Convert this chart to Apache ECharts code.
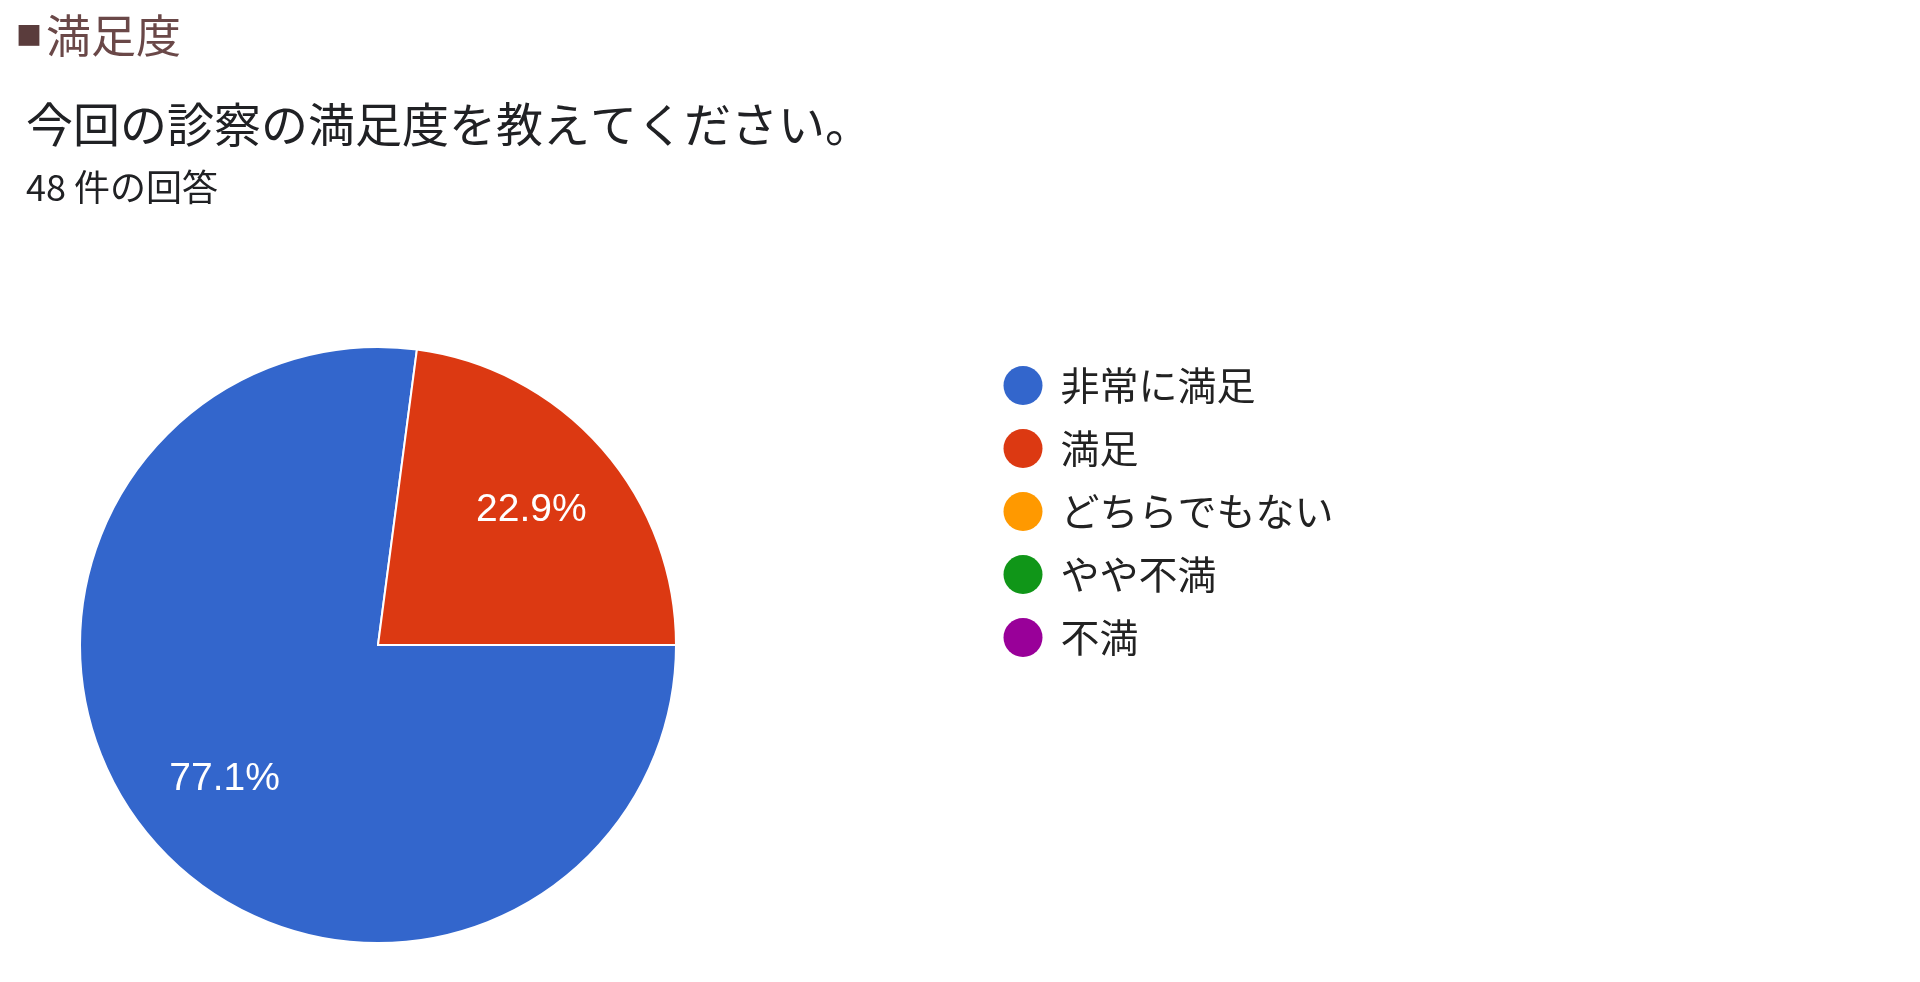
<!DOCTYPE html>
<html>
<head>
<meta charset="utf-8">
<script src="https://cdn.jsdelivr.net/npm/echarts@6/dist/echarts.min.js"></script>
<style>
html,body{margin:0;padding:0;background:#fff;}
#chart{width:1920px;height:982px;}
</style>
</head>
<body>
<div id="chart"></div>
<script>
const sectionTitle = '満足度';
const questionTitle = '今回の診察の満足度を教えてください。';
const responseCountText = '48 件の回答';
const categories = ['非常に満足', '満足', 'どちらでもない', 'やや不満', '不満'];
const counts = [37, 11, 0, 0, 0];
const palette = ['#3366cc', '#dc3912', '#ff9900', '#109618', '#990099'];

const pieData = categories.map((name, i) => ({ name: name, value: counts[i] }));
const cjk = '"Noto Sans CJK JP", "Noto Sans", sans-serif';

const chart = echarts.init(document.getElementById('chart'));
chart.setOption({
  animation: false,
  backgroundColor: '#ffffff',
  color: palette,
  title: [
    {
      left: 11, top: 8,
      text: '{sq|■}{t|' + sectionTitle + '}',
      textStyle: {
        fontWeight: 'normal',
        rich: {
          sq: { fontSize: 26, fontWeight: 'normal', fontFamily: cjk, color: '#5a3c3c', lineHeight: 45 },
          t: { fontSize: 45, fontWeight: 'normal', fontFamily: cjk, color: '#6a4848', lineHeight: 45, padding: [0, 0, 0, 4] }
        }
      }
    },
    {
      left: 21, top: 96,
      text: questionTitle,
      textStyle: { fontSize: 47, lineHeight: 47, fontWeight: 'normal', fontFamily: cjk, color: '#202124' }
    },
    {
      left: 21, top: 164,
      text: responseCountText,
      textStyle: { fontSize: 36, lineHeight: 36, fontWeight: 'normal', fontFamily: cjk, color: '#202124' }
    }
  ],
  legend: {
    orient: 'vertical',
    left: 998.5,
    top: 361,
    icon: 'circle',
    itemWidth: 65,
    itemHeight: 39,
    itemGap: 24,
    selectedMode: false,
    data: categories,
    itemStyle: { borderWidth: 0 },
    textStyle: { fontSize: 39, lineHeight: 39, fontFamily: cjk, color: '#222222' }
  },
  series: [
    {
      type: 'pie',
      center: [378, 645],
      radius: [0, 298],
      startAngle: 0,
      clockwise: true,
      silent: true,
      data: pieData,
      label: { show: false },
      labelLine: { show: false },
      itemStyle: { borderColor: '#ffffff', borderWidth: 2 },
      emphasis: { disabled: true }
    },
    {
      type: 'pie',
      center: [378, 645],
      radius: [104, 298],
      startAngle: 0,
      clockwise: true,
      silent: true,
      data: pieData,
      itemStyle: { color: 'rgba(0,0,0,0)', borderWidth: 0 },
      labelLine: { show: false },
      label: {
        show: true,
        position: 'inside',
        color: '#ffffff',
        fontSize: 39,
        padding: [8, 0, 0, 0],
        fontFamily: '"Liberation Sans", Arial, sans-serif',
        formatter: function (p) { return p.value ? p.percent.toFixed(1) + '%' : ''; }
      },
      emphasis: { disabled: true }
    }
  ]
});
</script>
</body>
</html>
